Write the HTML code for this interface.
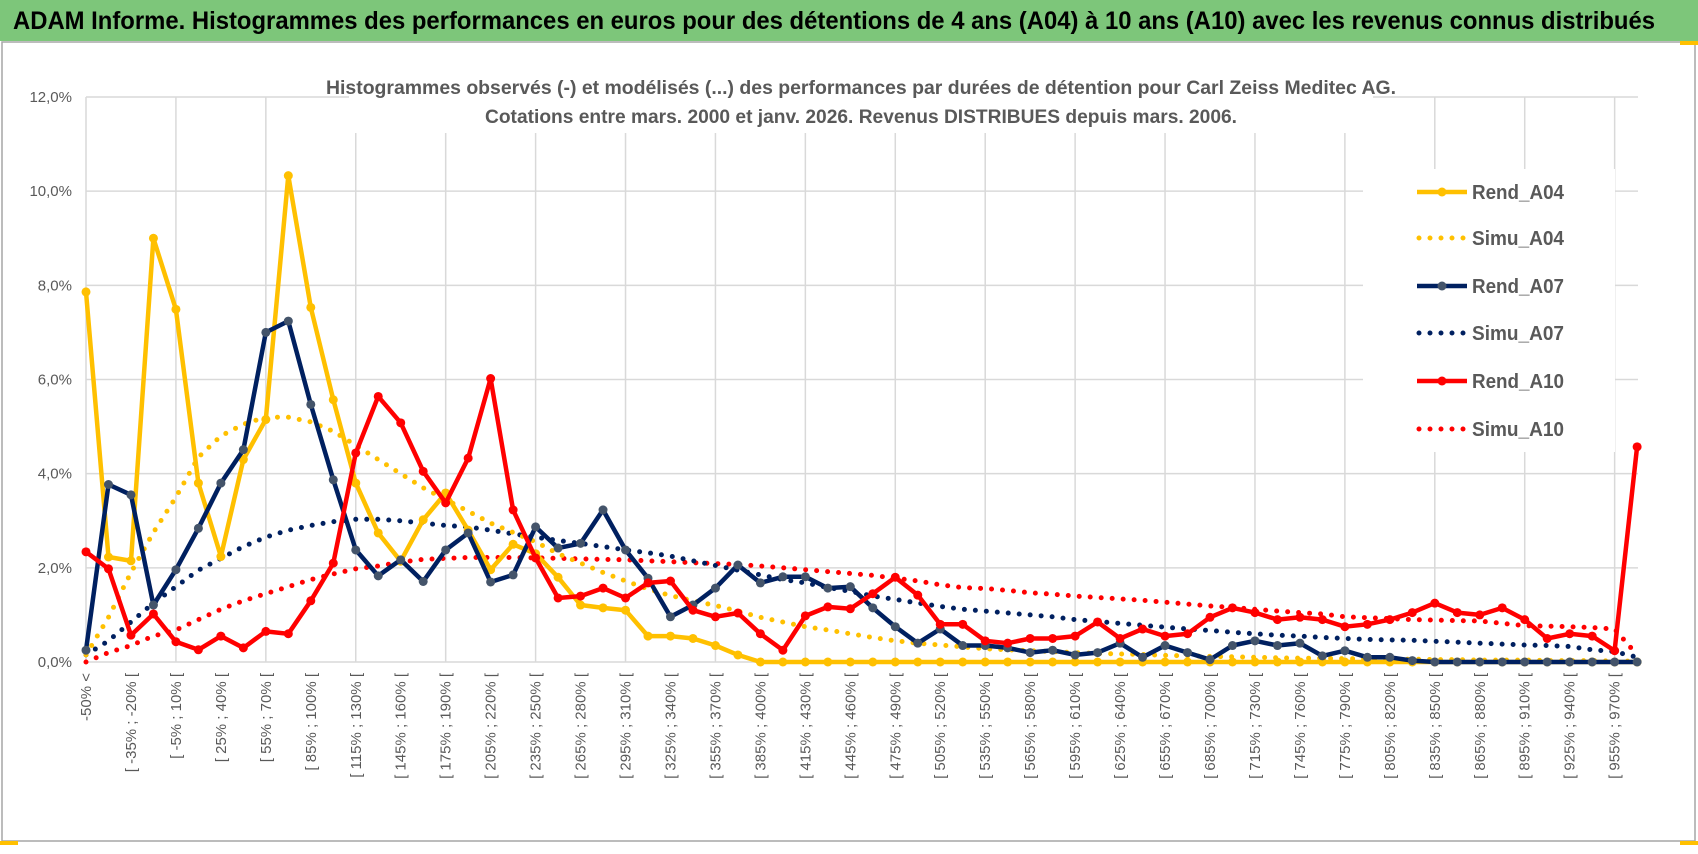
<!DOCTYPE html>
<html><head><meta charset="utf-8"><style>
html,body{margin:0;padding:0;background:#fff;}
svg{display:block;font-family:"Liberation Sans",sans-serif;}
</style></head><body>
<svg id="chart" width="1698" height="854" viewBox="0 0 1698 854" xmlns="http://www.w3.org/2000/svg">
<rect x="0" y="0" width="1698" height="41" fill="#7DC67A"/>
<text x="13" y="29" font-size="25" font-weight="bold" fill="#000" textLength="1642" lengthAdjust="spacingAndGlyphs">ADAM Informe. Histogrammes des performances en euros pour des détentions de 4 ans (A04) à 10 ans (A10) avec les revenus connus distribués</text>
<rect x="2" y="42" width="1693" height="799" fill="#fff" stroke="#a6a6a6" stroke-width="1.5"/>
<g id="grid"></g>
<rect x="349" y="66" width="1024" height="67" fill="#fff"/>
<text x="861" y="94" font-size="19" font-weight="bold" fill="#595959" text-anchor="middle" textLength="1070" lengthAdjust="spacingAndGlyphs">Histogrammes observés (-) et modélisés (...) des performances par durées de détention pour Carl Zeiss Meditec AG.</text>
<text x="861" y="123" font-size="19" font-weight="bold" fill="#595959" text-anchor="middle" textLength="752" lengthAdjust="spacingAndGlyphs">Cotations entre mars. 2000 et janv. 2026. Revenus DISTRIBUES depuis mars. 2006.</text>
<g id="yaxis"></g>
<g id="xaxis"></g>
<g id="series"></g>
<rect x="1363" y="169" width="252" height="283" fill="#fff"/>
<g id="legend"></g>
<rect x="0" y="841" width="18" height="4" fill="#FFC000"/>
<rect x="1680" y="41" width="18" height="4" fill="#FFC000"/>
<rect x="1680" y="841" width="18" height="4" fill="#FFC000"/>
</svg>
<script>
const yTicks = [0,2,4,6,8,10,12];
const yTickLabels = ["0,0%","2,0%","4,0%","6,0%","8,0%","10,0%","12,0%"];
const rendA04 = [7.86,2.23,2.15,9.0,7.49,3.8,2.24,4.3,5.15,10.33,7.53,5.57,3.8,2.74,2.14,3.02,3.59,2.8,1.96,2.5,2.3,1.8,1.21,1.15,1.1,0.55,0.55,0.5,0.35,0.15,0,0,0,0,0,0,0,0,0,0,0,0,0,0,0,0,0,0,0,0,0,0,0,0,0,0,0,0,0,0,0,0,0,0,0,0,0,0,0,0];
const simuA04 = [0.15,0.95,1.9,2.75,3.5,4.35,4.8,5.05,5.2,5.2,5.1,4.9,4.6,4.3,4.0,3.7,3.45,3.2,2.95,2.75,2.55,2.3,2.1,1.9,1.72,1.55,1.41,1.3,1.2,1.08,0.95,0.85,0.75,0.68,0.6,0.52,0.45,0.4,0.36,0.32,0.28,0.26,0.24,0.22,0.2,0.18,0.17,0.16,0.14,0.13,0.12,0.11,0.1,0.09,0.08,0.08,0.07,0.07,0.06,0.06,0.05,0.05,0.04,0.04,0.04,0.03,0.03,0.03,0.02,0.02];
const rendA07 = [0.25,3.77,3.55,1.21,1.96,2.84,3.8,4.51,7.0,7.24,5.47,3.87,2.38,1.83,2.17,1.71,2.38,2.74,1.7,1.85,2.87,2.42,2.52,3.23,2.38,1.78,0.96,1.21,1.57,2.06,1.68,1.81,1.81,1.57,1.6,1.15,0.75,0.4,0.7,0.35,0.35,0.3,0.2,0.25,0.15,0.2,0.4,0.1,0.35,0.2,0.05,0.35,0.45,0.35,0.4,0.13,0.24,0.1,0.1,0.03,0,0,0,0,0,0,0,0,0,0];
const simuA07 = [0.15,0.45,0.85,1.25,1.6,1.95,2.2,2.45,2.65,2.8,2.9,2.98,3.03,3.03,3.0,2.95,2.9,2.87,2.8,2.72,2.65,2.58,2.52,2.45,2.38,2.32,2.25,2.15,2.05,1.95,1.85,1.75,1.68,1.58,1.5,1.4,1.33,1.25,1.18,1.12,1.08,1.04,1.0,0.96,0.9,0.86,0.82,0.78,0.74,0.7,0.67,0.63,0.6,0.57,0.55,0.52,0.5,0.48,0.47,0.46,0.44,0.42,0.4,0.38,0.36,0.35,0.33,0.26,0.22,0.1];
const rendA10 = [2.34,1.98,0.57,1.02,0.43,0.26,0.55,0.3,0.65,0.6,1.3,2.1,4.44,5.64,5.08,4.05,3.38,4.33,6.02,3.23,2.21,1.36,1.4,1.57,1.36,1.68,1.72,1.1,0.96,1.04,0.6,0.25,0.98,1.17,1.13,1.45,1.8,1.42,0.8,0.8,0.45,0.4,0.5,0.5,0.55,0.85,0.5,0.7,0.55,0.6,0.95,1.15,1.05,0.9,0.95,0.9,0.75,0.8,0.9,1.05,1.25,1.05,1.0,1.15,0.9,0.5,0.6,0.55,0.24,4.57];
const simuA10 = [0.0,0.2,0.35,0.55,0.68,0.9,1.12,1.3,1.45,1.6,1.75,1.87,1.98,2.04,2.12,2.18,2.2,2.22,2.22,2.22,2.21,2.2,2.19,2.18,2.17,2.15,2.13,2.11,2.09,2.07,2.04,2.0,1.96,1.92,1.88,1.84,1.78,1.72,1.64,1.58,1.56,1.52,1.47,1.44,1.4,1.37,1.34,1.31,1.27,1.23,1.19,1.16,1.12,1.08,1.05,1.02,0.96,0.94,0.92,0.9,0.89,0.88,0.87,0.82,0.77,0.76,0.75,0.73,0.7,0.15];
const categories = ["-50% <"];
for (let k = 1; k < 70; k++) { const a = -50 + 15*(k-1); categories.push("[ " + a + "% ; " + (a+15) + "% ["); }

const NS = "http://www.w3.org/2000/svg";
const X0 = 86, DX = 22.48, Y0 = 662, YMAX = 12, PH = 565;
function xs(i){ return X0 + i*DX; }
function ys(v){ return Y0 - v/YMAX*PH; }
function mk(tag, attrs, parent){ const e=document.createElementNS(NS,tag); for(const k in attrs) e.setAttribute(k,attrs[k]); parent.appendChild(e); return e; }

const grid = document.getElementById('grid');
yTicks.forEach(function(t){
  const l = mk('line',{x1:X0,x2:1638,y1:ys(t),y2:ys(t),stroke:'#d9d9d9','stroke-width':1.5},grid);
  
  
});
for (let i = 0; i < categories.length; i += 4) {
  const l = mk('line',{x1:xs(i),x2:xs(i),y1:ys(12),y2:Y0,stroke:'#d9d9d9','stroke-width':1.5},grid);
  
  
}
const yax = document.getElementById('yaxis');
yTicks.forEach(function(t,i){
  const tx = mk('text',{x:72,y:ys(t)+5,'font-size':15,fill:'#595959','text-anchor':'end'},yax);
  tx.textContent = yTickLabels[i];
  
  
});
const xax = document.getElementById('xaxis');
categories.forEach(function(c,i){
  if (i !== 0 && i % 2 !== 0) return;
  const x = xs(i)+5, y = 673;
  const tx = mk('text',{x:x,y:y,'font-size':15,fill:'#595959','text-anchor':'end',transform:'rotate(-90 '+x+' '+y+')'},xax);
  tx.textContent = c;
  
  
});
const ser = document.getElementById('series');
function pts(arr){ return arr.map(function(v,i){ return xs(i).toFixed(1)+','+ys(v).toFixed(1); }).join(' '); }
function dotted(arr,color,name){
  const p = mk('polyline',{points:pts(arr),fill:'none',stroke:color,'stroke-width':5,'stroke-linecap':'round','stroke-dasharray':'0 11'},ser);
  
  
}
function solid(arr,color,mcolor,name){
  const g = mk('g',{},ser);
  
  
  mk('polyline',{points:pts(arr),fill:'none',stroke:color,'stroke-width':4.5,'stroke-linejoin':'round'},g);
  arr.forEach(function(v,i){
    const c = mk('circle',{cx:xs(i),cy:ys(v),r:4.5,fill:mcolor},g);
    
    
  });
}
dotted(simuA10,'#FF0000','simu-a10-line');
dotted(simuA07,'#002060','simu-a07-line');
dotted(simuA04,'#FFC000','simu-a04-line');
solid(rendA04,'#FFC000','#FFC000','rend-a04-line');
solid(rendA07,'#002060','#44546A','rend-a07-line');
solid(rendA10,'#FF0000','#FF0000','rend-a10-line');

const legendItems = [["Rend_A04","#FFC000","#FFC000",false],["Simu_A04","#FFC000","",true],["Rend_A07","#002060","#44546A",false],["Simu_A07","#002060","",true],["Rend_A10","#FF0000","#FF0000",false],["Simu_A10","#FF0000","",true]];
const leg = document.getElementById('legend');
const legRows = [192,238,286,333,381,429];
legendItems.forEach(function(it,i){
  const y = legRows[i];
  const g = mk('g',{},leg);
  
  
  if (it[3]) {
    mk('line',{x1:1419,x2:1465,y1:y,y2:y,stroke:it[1],'stroke-width':5,'stroke-linecap':'round','stroke-dasharray':'0 11'},g);
  } else {
    mk('line',{x1:1417,x2:1467,y1:y,y2:y,stroke:it[1],'stroke-width':4.5},g);
    mk('circle',{cx:1442,cy:y,r:4.5,fill:it[2]},g);
  }
  const t = mk('text',{x:1472,y:y+7,'font-size':20,'font-weight':'bold',fill:'#595959',textLength:92,lengthAdjust:'spacingAndGlyphs'},g);
  t.textContent = it[0];
});
</script>
</body></html>
